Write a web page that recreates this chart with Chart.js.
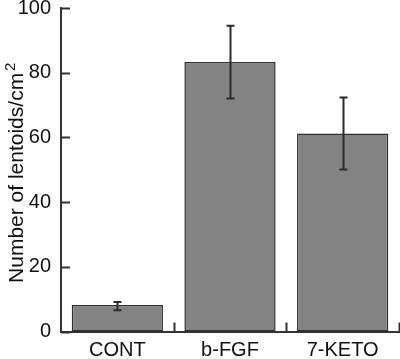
<!DOCTYPE html>
<html>
<head>
<meta charset="utf-8">
<script src="https://cdn.jsdelivr.net/npm/chart.js@4"></script>
<style>
  html, body { margin: 0; padding: 0; background: #fff; }
  #wrap { width: 400px; height: 359px; }
</style>
</head>
<body>
<div id="wrap"><canvas id="c"></canvas></div>
<script>
// --- data ---
const categories = ["CONT", "b-FGF", "7-KETO"];
const means = [8.2, 83.3, 61.2];
const errLow = [6.6, 72.0, 50.1];
const errHigh = [9.1, 94.5, 72.3];
const yTicks = [0, 20, 40, 60, 80, 100];
const yTitle = "Number of lentoids/cm";
const yTitleSup = "2";

const AXIS = "#333";
const FONT = "'Liberation Sans', Arial, sans-serif";

// inward tick marks, error bars, y title with superscript
const extras = {
  id: "extras",
  afterDatasetsDraw(chart) {
    const { ctx, scales: { x, y }, chartArea } = chart;
    ctx.save();
    ctx.strokeStyle = AXIS;
    ctx.lineWidth = 2;
    // y ticks
    yTicks.forEach(v => {
      const py = Math.round(y.getPixelForValue(v)) + 0.5;
      ctx.beginPath();
      ctx.moveTo(chartArea.left, py);
      ctx.lineTo(chartArea.left + 9, py);
      ctx.stroke();
    });
    // x ticks at right edge of each category
    categories.forEach((c, i) => {
      const px = Math.round(x.getPixelForValue(i + 0.5)) + 0.5;
      ctx.beginPath();
      ctx.moveTo(px, chartArea.bottom);
      ctx.lineTo(px, chartArea.bottom - 9);
      ctx.stroke();
    });
    // error bars
    ctx.strokeStyle = "#2b2b2b";
    categories.forEach((c, i) => {
      const px = Math.round(x.getPixelForValue(i)) + 0.5;
      const top = y.getPixelForValue(errHigh[i]);
      const bot = y.getPixelForValue(errLow[i]);
      ctx.lineWidth = 2;
      ctx.beginPath();
      ctx.moveTo(px, top); ctx.lineTo(px, bot);
      ctx.moveTo(px - 4, top); ctx.lineTo(px + 4, top);
      ctx.moveTo(px - 4, bot); ctx.lineTo(px + 4, bot);
      ctx.stroke();
    });

    // y title
    ctx.fillStyle = "#111";
    ctx.textBaseline = "alphabetic";
    ctx.textAlign = "left";
    ctx.font = "21px " + FONT;
    const w1 = ctx.measureText(yTitle).width;
    ctx.font = "15px " + FONT;
    const w2 = ctx.measureText(yTitleSup).width;
    const cy = (chartArea.top + chartArea.bottom) / 2 + 3;
    ctx.translate(23, cy + (w1 + 2 + w2) / 2);
    ctx.rotate(-Math.PI / 2);
    ctx.font = "21px " + FONT;
    ctx.fillText(yTitle, 0, 0);
    ctx.font = "15px " + FONT;
    ctx.fillText(yTitleSup, w1 + 2, -8);
    ctx.restore();
  }
};

new Chart(document.getElementById("c"), {
  type: "bar",
  data: {
    labels: categories,
    datasets: [{
      data: means,
      backgroundColor: "#838383",
      borderColor: "#2e2e2e",
      borderWidth: 1.5,
      borderSkipped: false,
      categoryPercentage: 1,
      barPercentage: 0.81
    }]
  },
  options: {
    responsive: true,
    maintainAspectRatio: false,
    animation: false,
    devicePixelRatio: 1,
    layout: { padding: { top: 8, right: 1, bottom: 0, left: 0 } },
    plugins: { legend: { display: false }, tooltip: { enabled: false } },
    scales: {
      x: {
        offset: true,
        grid: { display: false, drawTicks: false },
        border: { display: true, color: AXIS, width: 2 },
        ticks: { color: "#111", padding: 7, font: { family: FONT, size: 20 } },
        afterFit: s => { s.height = 27.5; s.paddingLeft = 0; s.paddingRight = 0; }
      },
      y: {
        min: 0,
        max: 100,
        grid: { display: false, drawTicks: false },
        border: { display: true, color: AXIS, width: 2 },
        afterBuildTicks: s => { s.ticks = yTicks.map(v => ({ value: v })); },
        ticks: { color: "#111", padding: 10, font: { family: FONT, size: 20 } },
        afterFit: s => { s.width = 61; s.paddingTop = 0; s.paddingBottom = 0; }
      }
    }
  },
  plugins: [extras]
});
</script>
</body>
</html>
